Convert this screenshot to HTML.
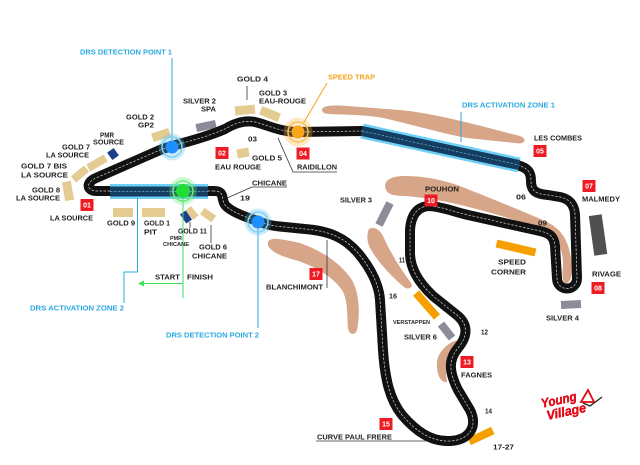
<!DOCTYPE html>
<html><head><meta charset="utf-8"><style>
html,body{margin:0;padding:0;background:#fff;width:640px;height:465px;overflow:hidden}
svg{display:block}
text{font-family:"Liberation Sans",Arial,sans-serif;font-weight:bold}
.l{font-size:7.4px;fill:#231f20}
.b{font-size:7.4px;fill:#29a9e1}
.o{font-size:7.4px;fill:#f7a41d}
.r{font-size:7px;fill:#fff}
.t{font-size:5px;fill:#231f20}
</style></head><body>
<svg width="640" height="465" viewBox="0 0 640 465" xmlns="http://www.w3.org/2000/svg">
<g fill="#d7a688">
<path d="M322 110 C322 104 340 105 360 107 L400 110 C440 114 480 126 520 136 C528 139 525 145 515 143 L467 138 C440 133 410 124 383 118 C360 114 340 115 330 114 C324 114 322 112 322 110 Z"/>
<path d="M386 190 C382 180 392 176 405 176 C425 176 445 180 465 188 C490 198 520 210 545 221 C562 229 568 240 571 258 C573 270 572 281 567 283 C562 284 562 276 563 265 C563 252 559 240 548 233 C535 226 510 218 480 210 C455 203 430 198 405 196 C393 196 388 194 386 190 Z"/>
<path d="M368 232 C368 226 378 226 383 236 C390 252 400 268 411 283 C414 288 408 290 404 287 C390 275 378 262 370 248 C367 242 367 236 368 232 Z"/>
<path d="M268 242 C270 236 285 240 300 243 C320 250 340 262 352 280 C360 295 360 315 357 330 C355 336 349 335 348 328 C347 315 348 300 342 290 C333 277 315 266 295 260 C280 256 266 250 268 242 Z"/>
<path d="M458 340 C462 342 456 350 450 358 C445 366 446 375 447 382 C440 383 436 372 437 362 C438 352 448 342 458 340 Z"/>
</g>
<g fill="#e3cb92">
<rect x="-9" y="-4.5" width="18" height="9" transform="translate(161,135) rotate(-18)"/>
<rect x="-10" y="-4" width="20" height="8" transform="translate(97,163) rotate(-30)"/>
<rect x="-8.5" y="-4" width="17" height="8" transform="translate(80,174) rotate(-40)"/>
<rect x="-4.5" y="-9.5" width="9" height="19" transform="translate(68,191) rotate(-10)"/>
<rect x="113" y="208" width="20" height="9"/>
<rect x="142" y="208" width="23" height="9"/>
<rect x="-6" y="-3.5" width="12" height="7" transform="translate(192,213) rotate(50)"/>
<rect x="-7" y="-4" width="14" height="8" transform="translate(208,215) rotate(35)"/>
<rect x="-10" y="-4.5" width="20" height="9" transform="translate(245,110) rotate(-5)"/>
<rect x="-10" y="-4.5" width="20" height="9" transform="translate(270,114) rotate(22)"/>
<rect x="-6" y="-4.5" width="12" height="9" transform="translate(243,153) rotate(-10)"/>
</g>
<g fill="#1e3f8c">
<rect x="-4" y="-4.5" width="8" height="9" transform="translate(113,154) rotate(-35)"/>
<rect x="-3.5" y="-5.5" width="7" height="11" transform="translate(186,217) rotate(-35)"/>
</g>
<g fill="#8b8b99">
<rect x="-10" y="-4" width="20" height="8" transform="translate(206,126) rotate(-12)"/>
<rect x="-10" y="-4" width="20" height="8" transform="translate(571,304.5) rotate(-3)"/>
</g>
<rect x="-6.5" y="-20" width="13" height="40" fill="#505050" transform="translate(598,235) rotate(-8)"/>
<g stroke-linecap="butt" fill="none">
<line x1="390" y1="203" x2="379" y2="225" stroke="#8b8b99" stroke-width="8"/>
<line x1="416" y1="293" x2="437" y2="317" stroke="#f5a000" stroke-width="8"/>
<line x1="441" y1="324" x2="452" y2="338" stroke="#8b8b99" stroke-width="8"/>
</g>
<rect x="-20" y="-4" width="40" height="8" fill="#f5a000" transform="translate(516,248) rotate(13)"/>
<rect x="-13" y="-4" width="26" height="8" fill="#f5a000" transform="translate(481,436) rotate(-25)"/>
<path d="M214 191 L97 191 C86 191 86 182 96 178 L160 150 C175 144 200 140 225 129 C235 123 245 120 255 122 C268 125 280 132 298 132 L362 131 L517 165 C528 168 531 172 531 181 C531 191 536 194 548 195 L560 197 C570 199 574 205 575 214 L577 278 C577 292 557 292 557 278 L555 246 C554 236 549 233 540 231 L468 215 C455 212 443 207 430 206 C418 206 411 214 410 230 L410 253 C410 268 418 282 433 296 L458 316 C468 325 468 336 458 348 C448 360 449 372 458 390 L470 410 C478 426 470 440 450 441 C430 442 415 430 402 415 C390 400 385 380 383 350 L380 300 C379 285 372 270 358 253 C345 238 330 231 305 229 L285 227 C270 226 262 223 258 221 C245 217 232 212 226 206 C220 200 226 191 214 191 Z" fill="none" stroke="#111" stroke-width="10" stroke-linejoin="round"/>
<path d="M214 191 L97 191 C86 191 86 182 96 178 L160 150 C175 144 200 140 225 129 C235 123 245 120 255 122 C268 125 280 132 298 132 L362 131 L517 165 C528 168 531 172 531 181 C531 191 536 194 548 195 L560 197 C570 199 574 205 575 214 L577 278 C577 292 557 292 557 278 L555 246 C554 236 549 233 540 231 L468 215 C455 212 443 207 430 206 C418 206 411 214 410 230 L410 253 C410 268 418 282 433 296 L458 316 C468 325 468 336 458 348 C448 360 449 372 458 390 L470 410 C478 426 470 440 450 441 C430 442 415 430 402 415 C390 400 385 380 383 350 L380 300 C379 285 372 270 358 253 C345 238 330 231 305 229 L285 227 C270 226 262 223 258 221 C245 217 232 212 226 206 C220 200 226 191 214 191 Z" fill="none" stroke="#cfcfcf" stroke-width="0.7" stroke-dasharray="2.5 1.5"/>
<g fill="none" stroke-linecap="butt">
<line x1="362" y1="131" x2="519" y2="165" stroke="#6fd0f7" stroke-width="15"/>
<line x1="362" y1="131" x2="519" y2="165" stroke="#143d62" stroke-width="10"/>
<line x1="362" y1="131" x2="519" y2="165" stroke="#6fa6c8" stroke-width="0.7" stroke-dasharray="2.5 1.5"/>
<line x1="110" y1="191.5" x2="208" y2="191.5" stroke="#6fd0f7" stroke-width="15"/>
<line x1="110" y1="191.5" x2="208" y2="191.5" stroke="#143d62" stroke-width="10"/>
<line x1="110" y1="191.5" x2="208" y2="191.5" stroke="#6fa6c8" stroke-width="0.7" stroke-dasharray="2.5 1.5"/>
</g>
<g fill="none" stroke-width="1">
<line x1="172" y1="58" x2="172" y2="140" stroke="#29a9e1"/>
<line x1="461" y1="112" x2="461" y2="142" stroke="#29a9e1"/>
<polyline points="137.5,198 137.5,272 124,272 124,303" stroke="#29a9e1"/>
<line x1="258" y1="228" x2="258" y2="328" stroke="#29a9e1"/>
<line x1="183" y1="198" x2="183" y2="298" stroke="#39e35a"/>
<line x1="183" y1="283.5" x2="142" y2="283.5" stroke="#39e35a"/>
<line x1="303" y1="124" x2="327" y2="83" stroke="#f7a41d"/>
</g>
<path d="M138 283.5 L144 280.5 L144 286.5 Z" fill="#39e35a"/>
<g fill="none" stroke="#333" stroke-width="0.8">
<line x1="247" y1="86" x2="247" y2="100"/>
<polyline points="278,138 293,172 337,172"/>
<polyline points="227,198 252,187 287,187"/>
<line x1="190" y1="222" x2="190" y2="228"/>
<line x1="211" y1="225" x2="211" y2="243"/>
<line x1="327" y1="240" x2="327" y2="288"/>
<line x1="316" y1="441" x2="427" y2="441"/>
</g>
<g>
<circle cx="172" cy="147" r="13.5" fill="#5bc0f0" opacity="0.3"/>
<circle cx="172" cy="147" r="10" fill="none" stroke="#7fd0f5" stroke-width="1.5"/>
<circle cx="172" cy="147" r="6.5" fill="#1e8fff"/>
<circle cx="258" cy="222" r="13.5" fill="#5bc0f0" opacity="0.3"/>
<circle cx="258" cy="222" r="10" fill="none" stroke="#7fd0f5" stroke-width="1.5"/>
<circle cx="258" cy="222" r="6.5" fill="#1e8fff"/>
<circle cx="183" cy="191" r="14" fill="#5fe870" opacity="0.3"/>
<circle cx="183" cy="191" r="10" fill="none" stroke="#6fea7a" stroke-width="1.5"/>
<circle cx="183" cy="191" r="7" fill="#22dd33"/>
<circle cx="298" cy="132" r="14.5" fill="#f9b540" opacity="0.3"/>
<circle cx="298" cy="132" r="10" fill="none" stroke="#fbc25a" stroke-width="1.5"/>
<circle cx="298" cy="132" r="6.5" fill="#f9a61a"/>
</g>
<g fill="#ed1c24">
<rect x="80.5" y="199" width="13" height="12"/>
<rect x="215.5" y="147" width="13" height="12"/>
<rect x="296.5" y="147.5" width="13" height="12"/>
<rect x="533.5" y="145" width="13" height="12"/>
<rect x="582.5" y="180" width="13" height="12"/>
<rect x="591.5" y="282" width="13" height="12"/>
<rect x="424.5" y="194.5" width="13" height="12"/>
<rect x="460.5" y="356" width="13" height="12"/>
<rect x="379.5" y="418" width="13" height="12"/>
<rect x="309.5" y="268" width="13" height="12"/>
</g>
<g class="r" text-anchor="middle">
<text x="87" y="207.5">01</text>
<text x="222" y="155.5">02</text>
<text x="303" y="156">04</text>
<text x="540" y="153.5">05</text>
<text x="589" y="188.5">07</text>
<text x="598" y="290.5">08</text>
<text x="431" y="203">10</text>
<text x="467" y="364.5">13</text>
<text x="386" y="426.5">15</text>
<text x="316" y="276.5">17</text>
</g>
<text class="b" x="80" y="54.7" textLength="92" lengthAdjust="spacingAndGlyphs">DRS DETECTION POINT 1</text>
<text class="o" x="328" y="79.7" textLength="47" lengthAdjust="spacingAndGlyphs">SPEED TRAP</text>
<text class="b" x="462" y="107.7" textLength="93" lengthAdjust="spacingAndGlyphs">DRS ACTIVATION ZONE 1</text>
<text class="b" x="30" y="310.7" textLength="94" lengthAdjust="spacingAndGlyphs">DRS ACTIVATION ZONE 2</text>
<text class="b" x="166" y="337.7" textLength="93" lengthAdjust="spacingAndGlyphs">DRS DETECTION POINT 2</text>
<g class="l">
<text x="183" y="103.7" textLength="33" lengthAdjust="spacingAndGlyphs">SILVER 2</text>
<text x="201" y="111.7" textLength="15" lengthAdjust="spacingAndGlyphs">SPA</text>
<text x="237" y="81.7" textLength="31" lengthAdjust="spacingAndGlyphs">GOLD 4</text>
<text x="259" y="95.7" textLength="28" lengthAdjust="spacingAndGlyphs">GOLD 3</text>
<text x="259" y="103.7" textLength="47" lengthAdjust="spacingAndGlyphs">EAU-ROUGE</text>
<text x="126" y="119.7" textLength="28" lengthAdjust="spacingAndGlyphs">GOLD 2</text>
<text x="138" y="127.7" textLength="16" lengthAdjust="spacingAndGlyphs">GP2</text>
<text x="100" y="137.7" textLength="14" lengthAdjust="spacingAndGlyphs">PMR</text>
<text x="93" y="144.7" textLength="31" lengthAdjust="spacingAndGlyphs">SOURCE</text>
<text x="62" y="149.7" textLength="28" lengthAdjust="spacingAndGlyphs">GOLD 7</text>
<text x="46" y="157.7" textLength="43" lengthAdjust="spacingAndGlyphs">LA SOURCE</text>
<text x="21" y="168.7" textLength="46" lengthAdjust="spacingAndGlyphs">GOLD 7 BIS</text>
<text x="21" y="177.7" textLength="47" lengthAdjust="spacingAndGlyphs">LA SOURCE</text>
<text x="32" y="192.7" textLength="28" lengthAdjust="spacingAndGlyphs">GOLD 8</text>
<text x="16" y="200.7" textLength="44" lengthAdjust="spacingAndGlyphs">LA SOURCE</text>
<text x="50" y="220.7" textLength="43" lengthAdjust="spacingAndGlyphs">LA SOURCE</text>
<text x="107" y="225.7" textLength="28" lengthAdjust="spacingAndGlyphs">GOLD 9</text>
<text x="144" y="225.7" textLength="26" lengthAdjust="spacingAndGlyphs">GOLD 1</text>
<text x="144" y="234.7" textLength="13" lengthAdjust="spacingAndGlyphs">PIT</text>
<text x="178" y="233.7" textLength="29" lengthAdjust="spacingAndGlyphs">GOLD 11</text>
<text x="199" y="249.7" textLength="28" lengthAdjust="spacingAndGlyphs">GOLD 6</text>
<text x="192" y="258.7" textLength="35" lengthAdjust="spacingAndGlyphs">CHICANE</text>
<text x="155" y="279.7" textLength="25" lengthAdjust="spacingAndGlyphs">START</text>
<text x="187" y="279.7" textLength="26" lengthAdjust="spacingAndGlyphs">FINISH</text>
<text x="252" y="185.7" textLength="35" lengthAdjust="spacingAndGlyphs">CHICANE</text>
<text x="240" y="200.7" textLength="10" lengthAdjust="spacingAndGlyphs">19</text>
<text x="248" y="141.7" textLength="9" lengthAdjust="spacingAndGlyphs">03</text>
<text x="252" y="160.7" textLength="30" lengthAdjust="spacingAndGlyphs">GOLD 5</text>
<text x="215" y="169.7" textLength="46" lengthAdjust="spacingAndGlyphs">EAU ROUGE</text>
<text x="297" y="169.7" textLength="40" lengthAdjust="spacingAndGlyphs">RAIDILLON</text>
<text x="534" y="140.7" textLength="48" lengthAdjust="spacingAndGlyphs">LES COMBES</text>
<text x="516" y="199.7" textLength="10" lengthAdjust="spacingAndGlyphs">06</text>
<text x="538" y="225.7" textLength="9" lengthAdjust="spacingAndGlyphs">09</text>
<text x="582" y="201.7" textLength="38" lengthAdjust="spacingAndGlyphs">MALMEDY</text>
<text x="425" y="191.7" textLength="34" lengthAdjust="spacingAndGlyphs">POUHON</text>
<text x="340" y="202.7" textLength="32" lengthAdjust="spacingAndGlyphs">SILVER 3</text>
<text x="399" y="262.7" textLength="6" lengthAdjust="spacingAndGlyphs">11</text>
<text x="389" y="298.7" textLength="8" lengthAdjust="spacingAndGlyphs">16</text>
<text x="498" y="264.7" textLength="28" lengthAdjust="spacingAndGlyphs">SPEED</text>
<text x="491" y="274.7" textLength="35" lengthAdjust="spacingAndGlyphs">CORNER</text>
<text x="592" y="276.7" textLength="29" lengthAdjust="spacingAndGlyphs">RIVAGE</text>
<text x="546" y="320.7" textLength="33" lengthAdjust="spacingAndGlyphs">SILVER 4</text>
<text x="266" y="289.7" textLength="57" lengthAdjust="spacingAndGlyphs">BLANCHIMONT</text>
<text x="404" y="339.7" textLength="33" lengthAdjust="spacingAndGlyphs">SILVER 6</text>
<text x="481" y="334.7" textLength="7" lengthAdjust="spacingAndGlyphs">12</text>
<text x="461" y="377.7" textLength="31" lengthAdjust="spacingAndGlyphs">FAGNES</text>
<text x="485" y="413.7" textLength="7" lengthAdjust="spacingAndGlyphs">14</text>
<text x="317" y="439.7" textLength="75" lengthAdjust="spacingAndGlyphs">CURVE PAUL FRERE</text>
<text x="493" y="449.7" textLength="21" lengthAdjust="spacingAndGlyphs">17-27</text>
</g>
<g class="t">
<text x="170" y="239.8" textLength="12" lengthAdjust="spacingAndGlyphs">PMR</text>
<text x="163" y="245.8" textLength="26" lengthAdjust="spacingAndGlyphs">CHICANE</text>
<text x="393" y="323.8" textLength="37" lengthAdjust="spacingAndGlyphs">VERSTAPPEN</text>
</g>
<g transform="rotate(-12 570 405)" style="font-family:'Liberation Serif',serif;font-style:italic;font-weight:bold;font-size:13px;fill:#e30613;stroke:#e30613;stroke-width:0.4">
<text x="542" y="402" textLength="36" lengthAdjust="spacingAndGlyphs">Young</text>
<text x="545" y="415" textLength="40" lengthAdjust="spacingAndGlyphs">Village</text>
</g>
<path d="M581 402 L588 390 L594 402 Z" fill="none" stroke="#e30613" stroke-width="1.8"/>
<path d="M583 403 L590 406 L602 397" fill="none" stroke="#222" stroke-width="1.4"/>
</svg>
</body></html>
